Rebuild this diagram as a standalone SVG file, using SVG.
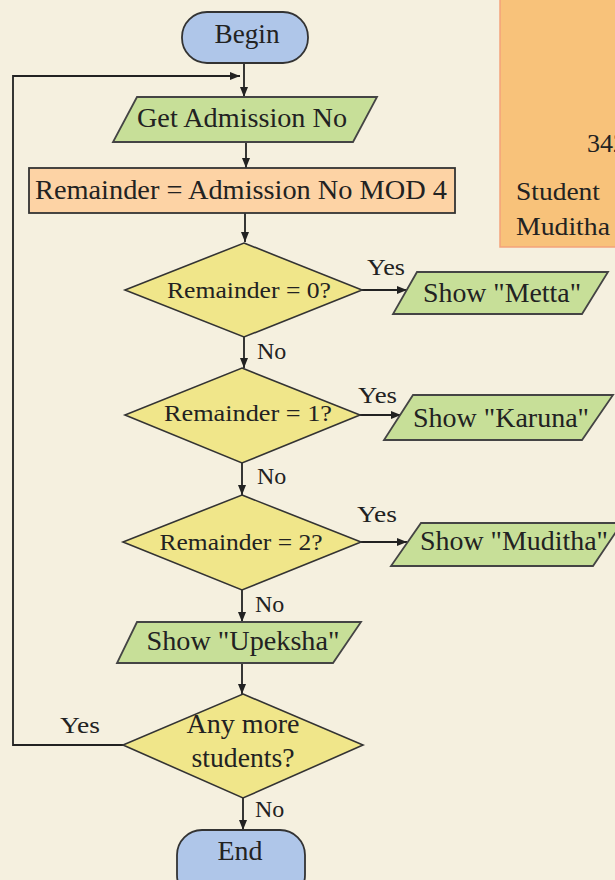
<svg xmlns="http://www.w3.org/2000/svg" width="615" height="880" viewBox="0 0 615 880" font-family="Liberation Serif, DejaVu Serif, serif">
<defs>
<marker id="ah" markerWidth="10" markerHeight="8" refX="10" refY="4" orient="auto" markerUnits="userSpaceOnUse">
<path d="M0,0 L10,4 L0,8 Z" fill="#222"/>
</marker>
<style>
text{font-family:'Liberation Serif','DejaVu Serif',serif;fill:#222;}
.lbl{font-size:28px;text-anchor:middle;}
.dt{font-size:23px;text-anchor:middle;}
.yn{font-size:24px;}
.nt{font-size:26px;}
.term{fill:#AFC6E9;stroke:#333;stroke-width:1.8;}
.io{fill:#C7DF98;stroke:#444;stroke-width:1.8;}
.dec{fill:#F0E68A;stroke:#333;stroke-width:1.6;}
.proc{fill:#FDD3A5;stroke:#333;stroke-width:1.8;}
.ln{fill:none;stroke:#222;stroke-width:1.8;}
</style>
</defs>
<rect x="0" y="0" width="615" height="880" fill="#F5F0DF"/>

<g id="note">
<rect x="500" y="-5" width="130" height="252" fill="#F8C27A" stroke="#F3A27B" stroke-width="1.5"/>
<text class="nt" x="587" y="152">342</text>
<text class="nt" x="516" y="200" textLength="84" lengthAdjust="spacingAndGlyphs">Student</text>
<text class="nt" x="516" y="235" textLength="94" lengthAdjust="spacingAndGlyphs">Muditha</text>
</g>

<g id="connectors">
<line class="ln" x1="244" y1="63" x2="244" y2="97" marker-end="url(#ah)"/>
<polyline class="ln" points="123,745 13,745 13,76 240,76" marker-end="url(#ah)"/>
<line class="ln" x1="246" y1="142" x2="246" y2="168" marker-end="url(#ah)"/>
<line class="ln" x1="245" y1="213" x2="245" y2="242" marker-end="url(#ah)"/>
<line class="ln" x1="362" y1="290" x2="407" y2="290" marker-end="url(#ah)"/>
<line class="ln" x1="244" y1="337" x2="244" y2="368" marker-end="url(#ah)"/>
<line class="ln" x1="360" y1="415" x2="401" y2="415" marker-end="url(#ah)"/>
<line class="ln" x1="242" y1="463" x2="242" y2="495" marker-end="url(#ah)"/>
<line class="ln" x1="361" y1="542" x2="407" y2="542" marker-end="url(#ah)"/>
<line class="ln" x1="242" y1="590" x2="242" y2="622" marker-end="url(#ah)"/>
<line class="ln" x1="242" y1="663" x2="242" y2="694" marker-end="url(#ah)"/>
<line class="ln" x1="243" y1="798" x2="243" y2="830" marker-end="url(#ah)"/>
<text class="yn" x="367" y="275" textLength="38" lengthAdjust="spacingAndGlyphs">Yes</text>
<text class="yn" x="257" y="359">No</text>
<text class="yn" x="358" y="403" textLength="39" lengthAdjust="spacingAndGlyphs">Yes</text>
<text class="yn" x="257" y="484">No</text>
<text class="yn" x="357" y="522" textLength="40" lengthAdjust="spacingAndGlyphs">Yes</text>
<text class="yn" x="255" y="612">No</text>
<text class="yn" x="60" y="733" textLength="40" lengthAdjust="spacingAndGlyphs">Yes</text>
<text class="yn" x="255" y="817">No</text>
</g>

<g id="begin">
<rect class="term" x="182" y="12" width="126" height="51" rx="25"/>
<text class="lbl" x="247" y="43" textLength="65" lengthAdjust="spacingAndGlyphs">Begin</text>
</g>

<g id="get-admission">
<polygon class="io" points="137,97 377,97 353,142 113,142"/>
<text class="lbl" x="242" y="127" textLength="210" lengthAdjust="spacingAndGlyphs">Get Admission No</text>
</g>

<g id="remainder">
<rect class="proc" x="29" y="168" width="426" height="45"/>
<text class="lbl" x="241" y="199" textLength="412" lengthAdjust="spacingAndGlyphs">Remainder = Admission No MOD 4</text>
</g>

<g id="dec0">
<polygon class="dec" points="244,243 362,290 244,337 125,290"/>
<text class="dt" x="249" y="298" textLength="164" lengthAdjust="spacingAndGlyphs">Remainder = 0?</text>
</g>

<g id="metta">
<polygon class="io" points="417,272 608,272 582,314 393,314"/>
<text class="lbl" x="502" y="302" textLength="158" lengthAdjust="spacingAndGlyphs">Show "Metta"</text>
</g>

<g id="dec1">
<polygon class="dec" points="242,368 360,415 242,463 125,415"/>
<text class="dt" x="248" y="421" textLength="168" lengthAdjust="spacingAndGlyphs">Remainder = 1?</text>
</g>

<g id="karuna">
<polygon class="io" points="413,395 613,395 582,440 384,440"/>
<text class="lbl" x="501" y="427" textLength="176" lengthAdjust="spacingAndGlyphs">Show "Karuna"</text>
</g>

<g id="dec2">
<polygon class="dec" points="242,495 361,542 242,590 123,542"/>
<text class="dt" x="241" y="550" textLength="163" lengthAdjust="spacingAndGlyphs">Remainder = 2?</text>
</g>

<g id="muditha">
<polygon class="io" points="421,523 622,523 593,566 391,566"/>
<text class="lbl" x="514" y="550" textLength="188" lengthAdjust="spacingAndGlyphs">Show "Muditha"</text>
</g>

<g id="upeksha">
<polygon class="io" points="137,622 361,622 333,663 117,663"/>
<text class="lbl" x="243" y="650" textLength="193" lengthAdjust="spacingAndGlyphs">Show "Upeksha"</text>
</g>

<g id="dec-more">
<polygon class="dec" points="243,694 363,745 243,798 123,745"/>
<text class="lbl" x="243" y="733" textLength="113" lengthAdjust="spacingAndGlyphs">Any more</text>
<text class="lbl" x="243" y="767" textLength="103" lengthAdjust="spacingAndGlyphs">students?</text>
</g>

<g id="end">
<rect class="term" x="177" y="830" width="128" height="70" rx="25"/>
<text class="lbl" x="240" y="860" textLength="45" lengthAdjust="spacingAndGlyphs">End</text>
</g>
</svg>
